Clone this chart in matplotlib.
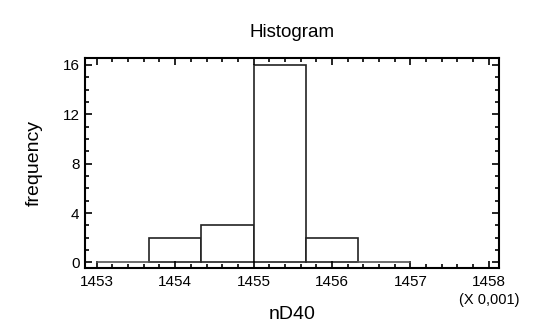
import numpy as np
import matplotlib.pyplot as plt
from matplotlib.ticker import MultipleLocator

plt.rcParams['font.family'] = ['Liberation Sans', 'DejaVu Sans']

# histogram bins (X 0,001) and counts
bin_edges = [1453.0, 1453.667, 1454.333, 1455.0, 1455.667, 1456.333, 1457.0]
counts = [0, 2, 3, 16, 2, 0]
x_ticks = [1453, 1454, 1455, 1456, 1457, 1458]
y_ticks = [0, 4, 8, 12, 16]

fig = plt.figure(figsize=(5.36, 3.25), dpi=100)
ax = fig.add_axes([85 / 536, 1 - 268 / 325, 414 / 536, 210 / 325])

left = np.array(bin_edges[:-1])
widths = np.diff(bin_edges)
for l, w, c in zip(left, widths, counts):
    if c == 0:
        ax.plot([l, l + w], [0, 0], color='#555555', lw=1.2)
    else:
        ax.bar(l, c, width=w, align='edge', facecolor='white',
               edgecolor='#222222', linewidth=1.2)

ax.set_xlim(1452.85, 1458.13)
ax.set_ylim(-0.45, 16.55)
ax.set_xticks(x_ticks)
ax.set_yticks(y_ticks)
ax.xaxis.set_minor_locator(MultipleLocator(0.2))
ax.yaxis.set_minor_locator(MultipleLocator(1))
ax.tick_params(which='both', direction='in', top=True, right=True,
               labelsize=11, width=1.2)
ax.tick_params(axis='x', pad=5)
ax.tick_params(axis='y', pad=4)
ax.tick_params(which='major', length=5)
ax.tick_params(which='minor', length=3)
for s in ax.spines.values():
    s.set_linewidth(1.5)

ax.set_title('Histogram', fontsize=13.5, pad=15)
ax.set_xlabel('nD40', fontsize=14, labelpad=12)
ax.set_ylabel('frequency', fontsize=14, labelpad=14)
ax.annotate('(X 0,001)', xy=(1458.0, -0.45), xycoords='data',
            xytext=(0, -18), textcoords='offset points', ha='center',
            va='top', fontsize=10.5)

fig.savefig('out.png', dpi=100)
